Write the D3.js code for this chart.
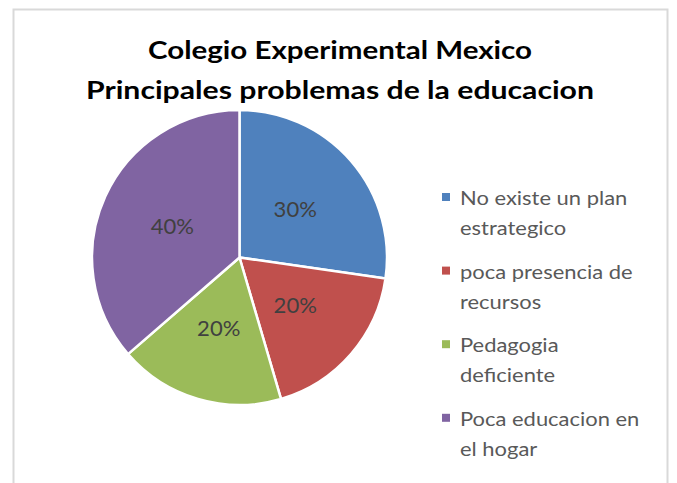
<!DOCTYPE html>
<html>
<head>
<meta charset="utf-8">
<script src="https://cdn.jsdelivr.net/npm/d3@7"></script>
<style>
  body { margin: 0; background: #fff; }
  svg { display: block; font-family: Lato, "Open Sans", sans-serif; }
</style>
</head>
<body>
<svg id="chart" width="677" height="483"></svg>
<script>
// data
var titleLines = ["Colegio Experimental Mexico", "Principales problemas de la educacion"];
var categories = ["No existe un plan estrategico", "poca presencia de recursos", "Pedagogia deficiente", "Poca educacion en el hogar"];
var legendLines = [["No existe un plan", "estrategico"], ["poca presencia de", "recursos"], ["Pedagogia", "deficiente"], ["Poca educacion en", "el hogar"]];
var values = [0.3, 0.2, 0.2, 0.4];
var colors = ["#4F81BD", "#C0504D", "#9BBB59", "#8064A2"];

var width = 677, height = 483;
var svg = d3.select("#chart");

// chart frame (bottom edge is cut off in the original)
svg.append("path")
    .attr("d", "M13.5,483 L13.5,9.5 L667.5,9.5 L667.5,483")
    .attr("fill", "none")
    .attr("stroke", "#d9d9d9")
    .attr("stroke-width", 2);

// title - the original font runs wider, so stretch each line to its width
var titleWidths = [384, 508];
svg.append("g").selectAll("text")
    .data(titleLines)
    .enter().append("text")
    .attr("x", 340)
    .attr("y", function(d, i) { return 58.5 + i * 40; })
    .attr("text-anchor", "middle")
    .attr("textLength", function(d, i) { return titleWidths[i]; })
    .attr("lengthAdjust", "spacingAndGlyphs")
    .style("font-size", "24px")
    .style("font-weight", "bold")
    .style("fill", "#000")
    .text(function(d) { return d; });

// pie
var cx = 239.5, cy = 257.5, radius = 147.5;
var g = svg.append("g").attr("transform", "translate(" + cx + "," + cy + ")");

var pie = d3.pie().sort(null).value(function(d) { return d; });
var data_ready = pie(values);

var arc = d3.arc().innerRadius(0).outerRadius(radius);

var arcs = g.selectAll("g.slice")
    .data(data_ready)
    .enter().append("g").attr("class", "slice");

arcs.append("path")
    .attr("d", arc)
    .attr("fill", function(d, i) { return colors[i]; })
    .attr("stroke", "#fff")
    .attr("stroke-width", 2.5)
    .attr("stroke-linejoin", "round");

arcs.append("text")
    .attr("transform", function(d) { return "translate(" + arc.centroid(d) + ") scale(1.05,1)"; })
    .attr("dy", "0.36em")
    .attr("text-anchor", "middle")
    .style("font-size", "21px")
    .style("fill", "#404040")
    .text(function(d) { return d3.format(".0%")(d.value); });

// legend
var legend = svg.append("g").attr("transform", "translate(442,0)");
var item = legend.selectAll("g.item")
    .data(categories)
    .enter().append("g")
    .attr("class", "item")
    .attr("transform", function(d, i) { return "translate(0," + (205 + i * 73.6) + ")"; });

item.append("rect")
    .attr("x", 0)
    .attr("y", -12)
    .attr("width", 8)
    .attr("height", 8)
    .attr("fill", function(d, i) { return colors[i]; });

item.each(function(d, i) {
    var t = d3.select(this).append("text")
        .attr("transform", "translate(18,0) scale(1.155,1)")
        .style("font-size", "19px")
        .style("fill", "#595959");
    legendLines[i].forEach(function(line, j) {
        t.append("tspan").attr("x", 0).attr("y", j * 30).text(line);
    });
});
</script>
</body>
</html>
